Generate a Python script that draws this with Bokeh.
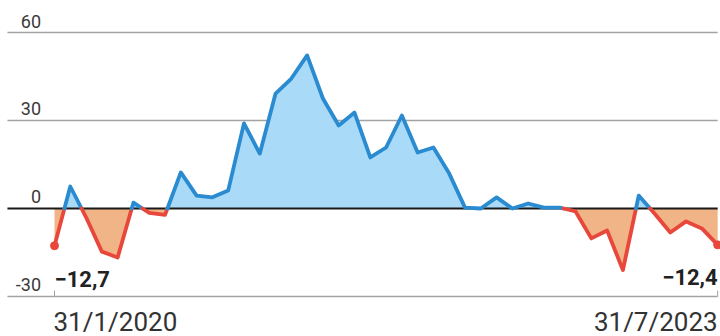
from bokeh.plotting import figure
from bokeh.models import Range1d
from bokeh.embed import file_html
from bokeh.resources import INLINE
from bokeh.core.properties import value

# Monthly values, 31/1/2020 .. 31/7/2023
months = list(range(43))
values = [-12.7, 7.5, -3.0, -14.7, -16.7, 2.0, -1.5, -2.2, 12.3, 4.4,
          3.8, 6.1, 29.0, 18.7, 39.2, 44.3, 52.2, 37.5, 28.3, 32.7,
          17.4, 20.8, 31.7, 19.1, 20.8, 11.9, 0.3, 0.0, 3.8, 0.0,
          1.7, 0.3, 0.3, -1.0, -10.2, -7.5, -21.0, 4.4, -1.7, -8.2,
          -4.4, -6.8, -12.4]
y_ticks = [60, 30, 0, -30]
y_tick_labels = ["60", "30", "0", "-30"]
x_labels = ["31/1/2020", "31/7/2023"]
end_labels = ["\u221212,7", "\u221212,4"]

BLUE = "#2a8bd0"
BLUE_FILL = "#a9daf7"
RED = "#e8473b"
RED_FILL = "#f1b486"

# insert zero crossings so fills and line colours split exactly at 0
ax, ay = [months[0]], [values[0]]
for i in range(1, len(values)):
    x0, y0, x1, y1 = months[i - 1], values[i - 1], months[i], values[i]
    if (y0 > 0 and y1 < 0) or (y0 < 0 and y1 > 0):
        xc = x0 + (x1 - x0) * (y0 / (y0 - y1))
        ax.append(xc)
        ay.append(0.0)
    ax.append(x1)
    ay.append(y1)

pos = [max(v, 0.0) for v in ay]
neg = [min(v, 0.0) for v in ay]

# split polyline into runs by sign
def sign_of(a, b):
    return 1 if (a + b) / 2.0 >= 0 else -1

runs_x, runs_y, runs_c = [], [], []
cur_x, cur_y = [ax[0]], [ay[0]]
cur_s = sign_of(ay[0], ay[1])
for i in range(1, len(ax)):
    s = sign_of(ay[i - 1], ay[i])
    if s != cur_s:
        runs_x.append(cur_x); runs_y.append(cur_y)
        runs_c.append(BLUE if cur_s > 0 else RED)
        cur_x, cur_y = [ax[i - 1]], [ay[i - 1]]
        cur_s = s
    cur_x.append(ax[i]); cur_y.append(ay[i])
runs_x.append(cur_x); runs_y.append(cur_y)
runs_c.append(BLUE if cur_s > 0 else RED)

p = figure(width=720, height=336, output_backend="svg", toolbar_location=None,
           x_range=Range1d(-3.42, 42.18), y_range=Range1d(-43.64, 70.91),
           min_border=0, min_border_left=0, min_border_right=0,
           min_border_top=0, min_border_bottom=0)
p.axis.visible = False
p.grid.visible = False
p.outline_line_color = None
p.background_fill_color = "white"
p.border_fill_color = "white"

# gridlines
g_ticks = [t for t in y_ticks if t != 0]
p.segment(x0=[-2.98] * len(g_ticks), x1=[months[-1]] * len(g_ticks),
          y0=g_ticks, y1=g_ticks, line_color="#a3a3a3", line_width=1.6)

# fills
p.varea(x=ax, y1=[0.0] * len(ax), y2=pos, fill_color=BLUE_FILL)
p.varea(x=ax, y1=[0.0] * len(ax), y2=neg, fill_color=RED_FILL)

# zero line
p.segment(x0=[-2.98], x1=[months[-1]], y0=[0], y1=[0],
          line_color="#1a1a1a", line_width=2)

# small ticks at ends
p.segment(x0=[months[0], months[-1]], x1=[months[0], months[-1]],
          y0=[y_ticks[-1], y_ticks[-1]], y1=[y_ticks[-1] + 2, y_ticks[-1] + 2],
          line_color="#a3a3a3", line_width=1)

# line
p.multi_line(xs=runs_x, ys=runs_y, line_color=runs_c,
             line_width=3.8, line_join="round", line_cap="round")

# end markers
p.scatter(x=[months[0], months[-1]], y=[values[0], values[-1]], size=8,
          fill_color=RED, line_color=RED)

# y tick labels
p.text(x=[-0.85] * len(y_ticks), y=y_ticks, text=y_tick_labels,
       text_align="right", text_baseline="bottom", y_offset=-5,
       text_font=value("Roboto"), text_font_size="18px", text_color="#3a3a3a")

# x labels
p.text(x=[months[0]], y=[y_ticks[-1]], text=[x_labels[0]], text_align="left",
       text_baseline="bottom", y_offset=41, x_offset=-1,
       text_font=value("Roboto"), text_font_size="26px", text_color="#333333")
p.text(x=[months[-1]], y=[y_ticks[-1]], text=[x_labels[1]], text_align="right",
       text_baseline="bottom", y_offset=41,
       text_font=value("Roboto"), text_font_size="26px", text_color="#333333")

# end value labels
p.text(x=[months[0]], y=[y_ticks[-1]], text=[end_labels[0]], text_align="left",
       text_baseline="bottom", y_offset=-9, x_offset=0,
       text_font=value("Roboto"), text_font_size="22px", text_font_style="bold",
       text_color="#222222")
p.text(x=[months[-1]], y=[y_ticks[-1]], text=[end_labels[1]], text_align="right",
       text_baseline="bottom", y_offset=-11,
       text_font=value("Roboto"), text_font_size="22px", text_font_style="bold",
       text_color="#222222")

open("out.html", "w").write(file_html(p, INLINE))
